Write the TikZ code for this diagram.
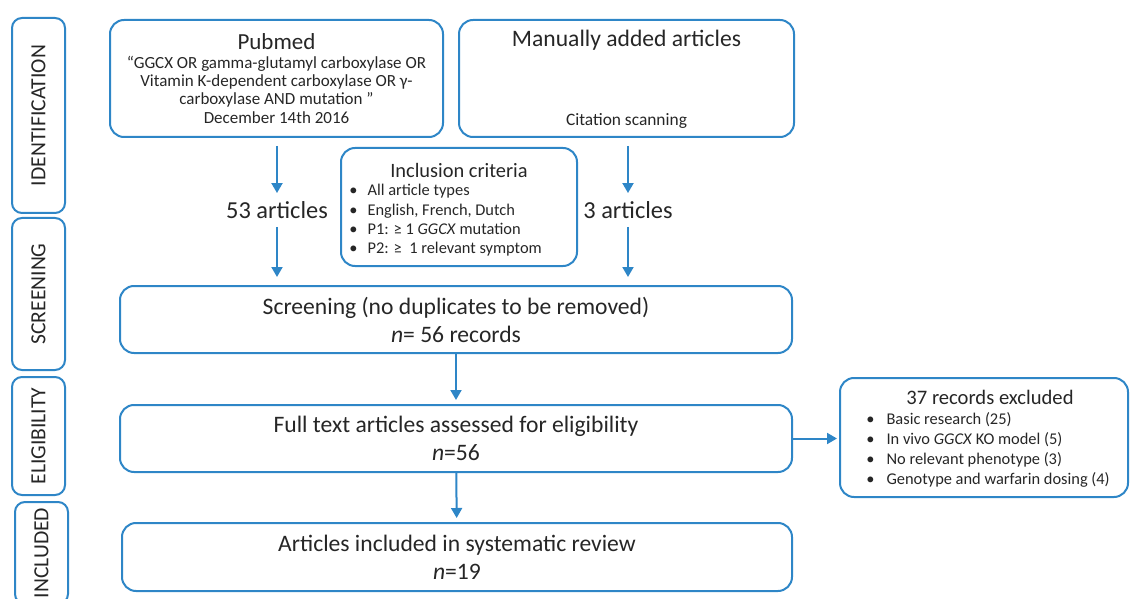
\documentclass[tikz,border=0pt]{standalone}
\usepackage{fontspec}
\setmainfont{Carlito}
\usepackage{xcolor}
\usetikzlibrary{arrows.meta}
\definecolor{flowblue}{RGB}{46,134,199}
\definecolor{txtgray}{RGB}{38,38,38}

\begin{document}
\begin{tikzpicture}[x=0.5pt,y=-0.5pt]
\tikzset{box/.style={draw=flowblue,line width=1pt,rounded corners=7pt,inner sep=0pt,align=center,text=txtgray},
         sidebox/.style={box,rounded corners=5pt,minimum width=26.5pt,font=\fontsize{10.8}{12}\selectfont},
         txt/.style={text=txtgray,inner sep=0pt},
         arr/.style={draw=flowblue,line width=1pt,-{Triangle[width=5.5pt,length=5pt]}},
         gaparr/.style={arr,shorten <=4pt,shorten >=4pt}}
\useasboundingbox (0,0) rectangle (1131,599);
% Stage labels
\node[sidebox,minimum height=97.5pt] (ident) at (38.5,115.5) {\rotatebox{90}{IDENTIFICATION}};
\node[sidebox,minimum height=76pt] (screenlbl) at (38.5,294) {\rotatebox{90}{SCREENING}};
\node[sidebox,minimum height=59pt] (eliglbl) at (38.5,436) {\rotatebox{90}{ELIGIBILITY}};
\node[sidebox,minimum height=51pt,anchor=north] (incllbl) at (41.5,501) {\rotatebox{90}{INCLUDED}};
% Sources
\node[box,minimum width=166.5pt,minimum height=58.5pt,font=\fontsize{8.5}{9.2}\selectfont] (pubmed) at (276.5,78.5)
  {{\fontsize{11.5}{12}\selectfont Pubmed}\\
   “GGCX OR gamma-glutamyl carboxylase OR\\
   Vitamin K-dependent carboxylase OR γ-\\
   carboxylase AND mutation ”\\
   December 14th 2016};
\node[box,minimum width=167.5pt,minimum height=58.5pt] (manual) at (626.5,78.5) {};
\node[txt,font=\fontsize{11.8}{12}\selectfont] (manualtitle) at (626.5,40) {Manually added articles};
\node[txt,font=\fontsize{8.7}{10}\selectfont] (citation) at (626.5,121) {Citation scanning};
% Inclusion criteria
\node[box,minimum width=118pt,minimum height=59pt] (inclusion) at (459,207) {};
\node[txt,font=\fontsize{10.2}{12}\selectfont] (incltitle) at (459,170) {Inclusion criteria};
\node[txt,anchor=west,font=\fontsize{8.2}{9.7}\selectfont] (incllist) at (349,221)
  {\begin{tabular}{@{}l@{\hspace{5pt}}l@{}}
   \textbullet & All article types\\
   \textbullet & English, French, Dutch\\
   \textbullet & P1: ≥ 1 \textit{GGCX} mutation\\
   \textbullet & P2: ≥ \ 1 relevant symptom
   \end{tabular}};
% Article counts
\node[txt,font=\fontsize{12.2}{14}\selectfont] (a53) at (277,210) {53 articles};
\node[txt,font=\fontsize{12.2}{14}\selectfont] (a3) at (628,210) {3 articles};
% Main flow
\node[box,minimum width=336pt,minimum height=33.5pt,font=\fontsize{11.8}{14}\selectfont] (screening) at (456,319.5)
  {Screening (no duplicates to be removed)\\\textit{n}= 56 records};
\node[box,minimum width=336pt,minimum height=33.5pt,font=\fontsize{11.8}{14}\selectfont] (fulltext) at (456,438.5)
  {Full text articles assessed for eligibility\\\textit{n}=56};
\node[box,minimum width=335pt,minimum height=34pt,font=\fontsize{11.8}{14}\selectfont] (included) at (457,557)
  {Articles included in systematic review\\\textit{n}=19};
% Exclusions
\node[box,minimum width=144pt,minimum height=59.5pt] (excluded) at (984,437.5) {};
\node[txt,font=\fontsize{10.3}{12}\selectfont] (excltitle) at (990,397) {37 records excluded};
\node[txt,anchor=west,font=\fontsize{8.2}{10}\selectfont] (excllist) at (866,450)
  {\begin{tabular}{@{}l@{\hspace{6pt}}l@{}}
   \textbullet & Basic research (25)\\
   \textbullet & In vivo \textit{GGCX} KO model (5)\\
   \textbullet & No relevant phenotype (3)\\
   \textbullet & Genotype and warfarin dosing (4)
   \end{tabular}};
% Arrows
\draw[gaparr] (pubmed.south -| a53) -- (a53);
\draw[gaparr] (a53) -- (a53 |- screening.north);
\draw[gaparr] (manual.south -| a3) -- (a3);
\draw[gaparr] (a3) -- (a3 |- screening.north);
\draw[arr,shorten >=2pt] (screening) -- (fulltext);
\draw[arr,shorten >=2pt] (fulltext) -- (included);
\draw[arr,shorten >=1pt] (fulltext.east) -- (fulltext.east -| excluded.west);
\end{tikzpicture}
\end{document}
